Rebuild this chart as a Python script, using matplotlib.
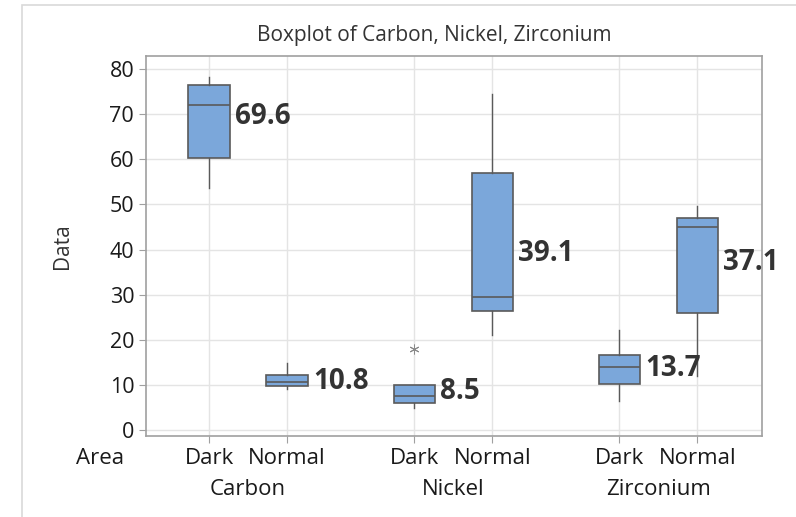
import matplotlib.pyplot as plt
from matplotlib.patches import Rectangle

plt.rcParams['font.family'] = ['Open Sans', 'DejaVu Sans']

# boxplot summary for each element / area
groups = ["Carbon", "Nickel", "Zirconium"]
areas = ["Dark", "Normal"]
whislo = [53.7, 9.1, 4.9, 21.1, 6.4, 12.0]
q1 = [60.3, 9.75, 6.1, 26.4, 10.3, 26.0]
med = [72.0, 10.6, 7.5, 29.5, 14.0, 45.1]
q3 = [76.4, 12.2, 10.0, 57.0, 16.6, 47.1]
whishi = [78.2, 14.9, 10.0, 74.4, 22.2, 49.6]
means = [69.6, 10.8, 8.5, 39.1, 13.7, 37.1]
fliers = [[], [], [17.9], [], [], []]

box_color = "#7ba7da"
edge_color = "#5a5a5a"

fig = plt.figure(figsize=(7.96, 5.17), dpi=100)
ax = fig.add_axes([146 / 796, 1 - 436 / 517, 616 / 796, 380 / 517])

# light frame around the graph window
fig.patches.append(Rectangle((22 / 796, -0.1), 1.2, 1.1 - 5 / 517, transform=fig.transFigure,
                             fill=False, edgecolor="#d9d9d9", linewidth=1.2))

group_gap = 2.63
positions = [g * group_gap + a for g in range(len(groups)) for a in range(len(areas))]

stats = []
for i in range(len(positions)):
    stats.append(dict(whislo=whislo[i], q1=q1[i], med=med[i], q3=q3[i],
                      whishi=whishi[i], fliers=fliers[i]))

ax.bxp(stats, positions=positions, widths=0.53, patch_artist=True, showcaps=False,
       boxprops=dict(facecolor=box_color, edgecolor=edge_color, linewidth=1.2),
       medianprops=dict(color=edge_color, linewidth=1.2),
       whiskerprops=dict(color=edge_color, linewidth=1.0),
       flierprops=dict(marker=(6, 2, 0), markersize=7, markeredgecolor="#8a8a8a",
                       markeredgewidth=0.7), zorder=3)

# mean labels beside each box
for p, m in zip(positions, means):
    ax.text(p + 0.33, m, f"{m:.1f}", ha="left", va="center", fontsize=20,
            fontweight="bold", color="#333333", zorder=4, clip_on=False)

ax.set_xlim(-0.81, 7.09)
ax.set_ylim(-1.3, 82.9)
ax.set_yticks(range(0, 81, 10))
ax.set_xticks(positions)
ax.set_xticklabels([])
ax.grid(True, color="#e4e4e4", linewidth=1.0, zorder=0)
ax.set_axisbelow(True)
for s in ax.spines.values():
    s.set_color("#a0a0a0")
    s.set_linewidth(1.2)
ax.tick_params(axis="y", labelsize=15.5, length=5, color="#a0a0a0", labelcolor="#1a1a1a")
ax.tick_params(axis="x", length=5, color="#a0a0a0")

ax.set_ylabel("Data", fontsize=15, color="#333333", labelpad=26)

# two-level x axis labels
for p, lab in zip(positions, areas * len(groups)):
    ax.text(p, -0.058, lab, transform=ax.get_xaxis_transform(), ha="center", va="center",
            fontsize=16, color="#1a1a1a")
for g, name in enumerate(groups):
    c = g * group_gap + 0.5
    ax.text(c, -0.14, name, transform=ax.get_xaxis_transform(), ha="center", va="center",
            fontsize=16, color="#1a1a1a")
fig.text(100 / 796, 1 - 458 / 517, "Area", ha="center", va="center", fontsize=16, color="#1a1a1a")

fig.text(434 / 796, 1 - 35 / 517, "Boxplot of Carbon, Nickel, Zirconium", ha="center",
         va="center", fontsize=15, color="#333333")

fig.savefig("out.png", dpi=100)
